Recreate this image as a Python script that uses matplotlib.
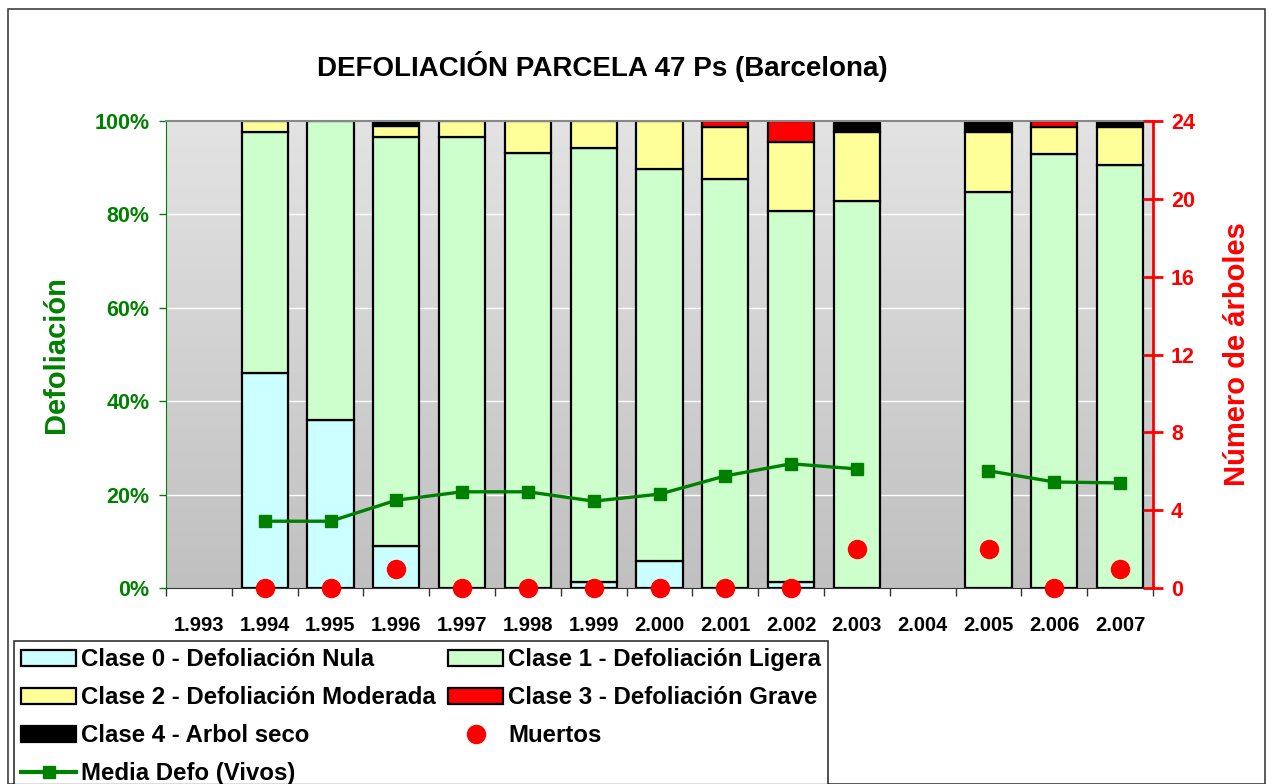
import numpy as np
import matplotlib.pyplot as plt
from matplotlib.patches import Patch, Rectangle
from matplotlib.lines import Line2D
from matplotlib.colors import LinearSegmentedColormap

plt.rcParams['font.family'] = ['Liberation Sans', 'DejaVu Sans']
plt.rcParams['font.weight'] = 'bold'
plt.rcParams['axes.labelweight'] = 'bold'

years = ['1.993', '1.994', '1.995', '1.996', '1.997', '1.998', '1.999', '2.000',
         '2.001', '2.002', '2.003', '2.004', '2.005', '2.006', '2.007']
clase0 = [0, 46.0, 36.0, 9.0, 0, 0, 1.2, 5.8, 0, 1.2, 0, 0, 0, 0, 0]
clase1 = [0, 51.7, 64.0, 87.6, 96.5, 93.2, 93.1, 83.9, 87.5, 79.5, 82.9, 0, 84.9, 92.9, 90.5]
clase2 = [0, 2.3, 0, 2.3, 3.5, 6.8, 5.7, 10.3, 11.3, 14.7, 14.7, 0, 12.7, 5.9, 8.2]
clase3 = [0, 0, 0, 0, 0, 0, 0, 0, 1.2, 4.6, 0, 0, 0, 1.2, 0]
clase4 = [0, 0, 0, 1.1, 0, 0, 0, 0, 0, 0, 2.4, 0, 2.4, 0, 1.3]
muertos = [np.nan, 0, 0, 1, 0, 0, 0, 0, 0, 0, 2, np.nan, 2, 0, 1]
media_defo = [np.nan, 14.3, 14.3, 18.8, 20.6, 20.6, 18.6, 20.1, 24.0, 26.6, 25.5,
              np.nan, 25.1, 22.7, 22.5]

series = [
    ('Clase 0 - Defoliación Nula', clase0, '#ccffff'),
    ('Clase 1 - Defoliación Ligera', clase1, '#ccffcc'),
    ('Clase 2 - Defoliación Moderada', clase2, '#ffff99'),
    ('Clase 3 - Defoliación Grave', clase3, '#ff0000'),
    ('Clase 4 - Arbol seco', clase4, '#000000'),
]

fig = plt.figure(figsize=(12.72, 7.84), dpi=100)
ax = fig.add_axes([166 / 1272, 1 - 588 / 784, 987 / 1272, 467 / 784])

x = np.arange(len(years))
ax.set_xlim(-0.5, len(years) - 0.5)
ax.set_ylim(0, 100)

# gradient background
grad = np.linspace(0, 1, 256).reshape(-1, 1)
cmap = LinearSegmentedColormap.from_list('bg', ['#c0c0c0', '#e3e3e3'])
ax.imshow(grad, cmap=cmap, aspect='auto', extent=[-0.5, len(years) - 0.5, 0, 100],
          origin='lower', zorder=0)
for g in [20, 40, 60, 80]:
    ax.axhline(g, color='white', lw=1, zorder=1)

bottom = np.zeros(len(years))
for name, vals, col in series:
    vals = np.array(vals, dtype=float)
    mask = vals > 0
    ax.bar(x[mask], vals[mask], bottom=bottom[mask], width=0.7, color=col,
           edgecolor='black', linewidth=1.6, zorder=2)
    bottom += vals

ax.plot(x, media_defo, color='#008000', lw=2.4, marker='s', markersize=9, zorder=4)

ax.set_yticks([0, 20, 40, 60, 80, 100])
ax.set_yticklabels(['0%', '20%', '40%', '60%', '80%', '100%'])
ax.tick_params(axis='y', colors='#008000', labelsize=15.5, length=5, width=1, pad=7)
ax.set_xticks(x)
ax.set_xticklabels(years)
ax.set_xticks(np.arange(-0.5, len(years), 1), minor=True)
ax.tick_params(axis='x', which='major', length=0, labelsize=14.5, pad=20, colors='black')
ax.tick_params(axis='x', which='minor', length=6, width=1, color='#333333')

ax.spines['left'].set_color('#008000')
ax.spines['top'].set_color('#888888')
ax.spines['top'].set_linewidth(1.5)
ax.spines['bottom'].set_color('#333333')
ax.spines['right'].set_visible(False)

ax.set_ylabel('Defoliación', color='#008000', fontsize=21, fontweight='bold')
ax.yaxis.set_label_coords(-0.097, 0.5)

ax2 = ax.twinx()
ax2.set_ylim(0, 24)
ax2.set_yticks([0, 4, 8, 12, 16, 20, 24])
ax2.tick_params(axis='y', colors='#ff0000', labelsize=15.5, direction='inout',
                length=14, width=2, pad=6)
ax2.spines['right'].set_color('#ff0000')
ax2.spines['right'].set_linewidth(2)
for s in ['left', 'top', 'bottom']:
    ax2.spines[s].set_visible(False)
ax2.plot(x, muertos, linestyle='none', marker='o', markersize=13, color='#ff0000',
         zorder=5, clip_on=False)
ax2.set_ylabel('Número de árboles', color='#ff0000', fontsize=21, fontweight='bold')
ax2.yaxis.set_label_coords(1.071, 0.5)

fig.text(602 / 1272, 1 - 66 / 784, 'DEFOLIACIÓN PARCELA 47 Ps (Barcelona)',
         ha='center', va='center', fontsize=20, fontweight='bold')

# outer chart border
fig.patches.append(Rectangle((8 / 1272, 0), 1257 / 1272, 1 - 9 / 784, transform=fig.transFigure,
                             fill=False, edgecolor='#404040', lw=1.2))

h = {name: Patch(facecolor=col, edgecolor='black', lw=1.6) for name, _, col in series}
muertos_h = Line2D([], [], linestyle='none', marker='o', markersize=13, color='#ff0000')
media_h = Line2D([], [], color='#008000', lw=3, marker='s', markersize=8)
handles = [h['Clase 0 - Defoliación Nula'], h['Clase 2 - Defoliación Moderada'],
           h['Clase 4 - Arbol seco'], media_h,
           h['Clase 1 - Defoliación Ligera'], h['Clase 3 - Defoliación Grave'], muertos_h]
labels = ['Clase 0 - Defoliación Nula', 'Clase 2 - Defoliación Moderada',
          'Clase 4 - Arbol seco', 'Media Defo (Vivos)',
          'Clase 1 - Defoliación Ligera', 'Clase 3 - Defoliación Grave', 'Muertos']
leg = fig.legend(handles, labels, ncol=2, loc='upper left',
                 bbox_to_anchor=(14 / 1272, 1 - 641 / 784), fontsize=17.3,
                 frameon=True, fancybox=False, edgecolor='black', borderaxespad=0,
                 handlelength=2.3, handleheight=0.65, handletextpad=0.2,
                 columnspacing=0.5, labelspacing=0.62, borderpad=0.3)
leg.get_frame().set_linewidth(1.2)

fig.savefig('out.png', dpi=100)
